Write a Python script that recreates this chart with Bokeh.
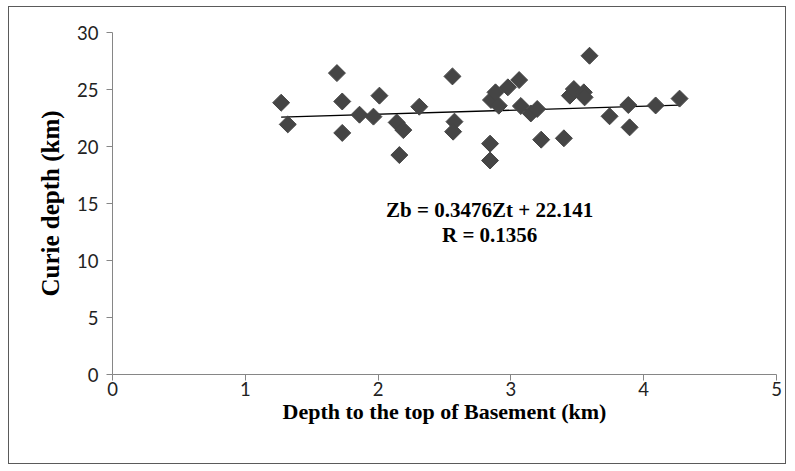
from bokeh.plotting import figure
from bokeh.embed import file_html
from bokeh.resources import INLINE
from bokeh.models import FixedTicker, Range1d
from bokeh.core.properties import value
import math

# Depth to top of basement (km) vs Curie depth (km)
zt = [1.27, 1.32, 1.69, 1.73, 1.73, 1.86, 1.965, 2.01, 2.14, 2.19, 2.16, 2.31,
      2.56, 2.575, 2.565, 2.843, 2.843, 2.85, 2.884, 2.909, 2.977, 3.062, 3.075,
      3.15, 3.198, 3.228, 3.399, 3.444, 3.474, 3.549, 3.555, 3.592, 3.743,
      3.884, 3.894, 4.09, 4.27]
zb = [23.84, 21.94, 26.44, 23.95, 21.19, 22.79, 22.62, 24.46, 22.11, 21.44, 19.25, 23.49,
      26.15, 22.18, 21.30, 20.25, 18.77, 24.08, 24.75, 23.58, 25.19, 25.83, 23.55,
      22.9, 23.29, 20.60, 20.72, 24.46, 25.04, 24.75, 24.31, 27.96, 22.65,
      23.64, 21.68, 23.60, 24.20]

slope = 0.3476
intercept = 22.141
eq_lines = ["Zb = 0.3476Zt + 22.141", "R = 0.1356"]
x_ticks = [0, 1, 2, 3, 4, 5]
y_ticks = [0, 5, 10, 15, 20, 25, 30]

p = figure(width=778, height=458, output_backend="svg", toolbar_location=None,
           x_range=Range1d(0, 5), y_range=Range1d(0, 30),
           min_border_left=103, min_border_right=11, min_border_top=25, min_border_bottom=91)
p.styles = {"border": "1px solid #5a5a5a", "margin-left": "8px", "margin-top": "6px"}

p.xgrid.visible = False
p.ygrid.visible = False
p.outline_line_color = None
p.background_fill_color = "white"
p.border_fill_color = "white"

for ax in (p.xaxis[0], p.yaxis[0]):
    ax.axis_line_color = "#868686"
    ax.major_tick_line_color = "#868686"
    ax.minor_tick_line_color = None
    ax.major_tick_in = 0
    ax.major_tick_out = 6
    ax.major_label_text_font = "Lato"
    ax.major_label_text_font_size = "18.5px"
    ax.major_label_text_color = "#222222"
    ax.axis_label_text_font = "Liberation Serif"
    ax.axis_label_text_font_style = "bold"
    ax.axis_label_text_color = "#000000"

p.xaxis.ticker = FixedTicker(ticks=x_ticks)
p.yaxis.ticker = FixedTicker(ticks=y_ticks)
p.xaxis.axis_label = "Depth to the top of Basement (km)"
p.yaxis.axis_label = "Curie depth (km)"
p.xaxis.axis_label_text_font_size = "22px"
p.yaxis.axis_label_text_font_size = "25px"
p.xaxis.major_label_standoff = 1
p.yaxis.major_label_standoff = 8
p.xaxis.axis_label_standoff = 0
p.yaxis.axis_label_standoff = 10

x0, x1 = min(zt), max(zt)
p.line([x0, x1], [slope * x0 + intercept, slope * x1 + intercept],
       line_color="black", line_width=1.3)

p.scatter(zt, zb, marker="square", size=12, angle=math.pi / 4,
          fill_color="#454545", line_color="#454545")

p.text(x=[2.84, 2.84], y=[14.4, 12.2], text=eq_lines,
       text_font=value("Liberation Serif"), text_font_style="bold",
       text_font_size="21px", text_align="center", text_baseline="middle",
       text_color="black")

open("out.html", "w").write(file_html(p, INLINE))
